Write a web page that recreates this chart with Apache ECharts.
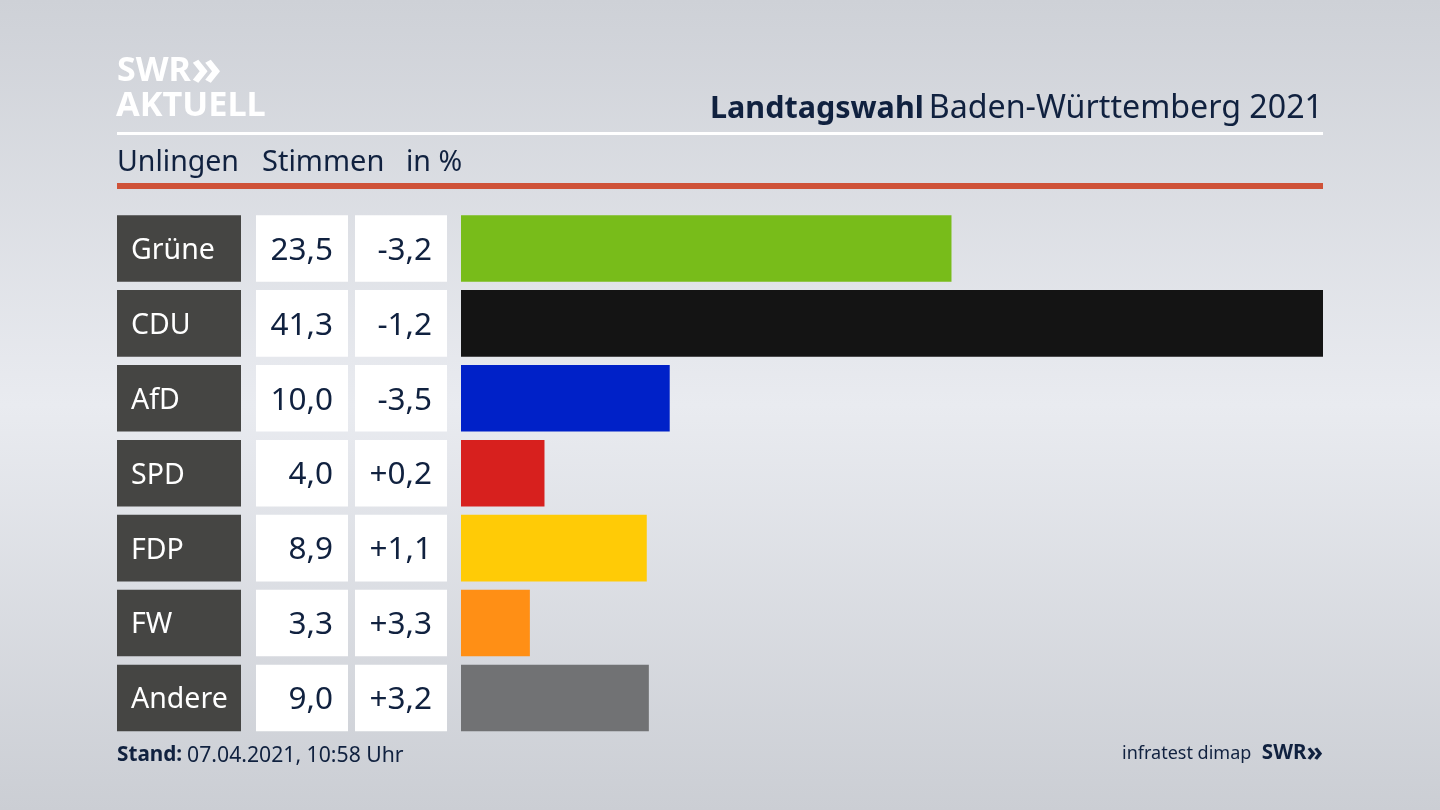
<!DOCTYPE html>
<html><head><meta charset="utf-8">
<style>html,body{margin:0;padding:0;background:#dfe1e6}#c{width:1440px;height:810px}</style>
<script src="https://cdn.jsdelivr.net/npm/echarts@6/dist/echarts.min.js"></script>
</head><body><div id="c"></div>
<script>
const parties = ['Grüne','CDU','AfD','SPD','FDP','FW','Andere'];
const shares = [23.5,41.3,10.0,4.0,8.9,3.3,9.0];
const changes = ['-3,2','-1,2','-3,5','+0,2','+1,1','+3,3','+3,2'];
const barColors = ['#78bc1a','#141414','#0021c8','#d7201e','#ffcb06','#ff8f15','#717274'];
const navy = '#10213f';
const fam = '"Noto Sans"';
const fmt = v => v.toFixed(1).replace('.', ',');
const chart = echarts.init(document.getElementById('c'), null, {renderer:'canvas', width:1440, height:810});
const T = (text, pos, size, extra) => ({text, ...pos, padding:0, textStyle:{color:navy, fontFamily:fam, fontSize:size, fontWeight:'normal', ...extra}});
const cell = (size,color,bg,w,pad,align) => ({width:w,height:62,lineHeight:62,padding:pad,backgroundColor:bg,color,fontFamily:fam,fontSize:size,align});
chart.setOption({
  animation:false,
  backgroundColor:{type:'linear',x:0,y:0,x2:0,y2:1,colorStops:[
    {offset:0,color:'#ced1d7'},{offset:0.5,color:'#e9ebf0'},{offset:1,color:'#cbced4'}]},
  grid:{left:461,top:211,width:862,height:524.4,containLabel:false},
  xAxis:{type:'value',min:0,max:41.3,show:false},
  yAxis:{type:'category',inverse:true,data:parties,
    axisLine:{show:false},axisTick:{show:false},splitLine:{show:false},
    axisLabel:{margin:14,interval:0,align:'right',
      formatter:(name,i)=>`{n|${name}}{g1|}{v|${fmt(shares[i])}}{g2|}{c|${changes[i]}}`,
      rich:{
        n:cell(28.5,'#ffffff','#454543',110,[4.6,0,0,14],'left'),
        g1:{width:15,height:66},
        v:cell(31.5,navy,'#ffffff',77,[4.6,15,0,0],'right'),
        g2:{width:7,height:66},
        c:cell(31.5,navy,'#ffffff',77,[4.6,15,0,0],'right')
      }}},
  series:[{type:'bar',barWidth:66.6,data:shares.map((v,i)=>({value:v,itemStyle:{color:barColors[i]}}))}],
  title:[
    {text:'{a|SWR}{b|»}',left:117,top:51,padding:0,textStyle:{rich:{
      a:{color:'#fff',fontFamily:fam,fontSize:34,fontWeight:'bold'},
      b:{color:'#fff',fontFamily:fam,fontSize:50,fontWeight:'bold',lineHeight:40}}}},
    T('AKTUELL',{left:116,top:89},34.3,{color:'#fff',fontWeight:'bold'}),
    {text:'{b|Landtagswahl} {r|Baden-Württemberg 2021}',right:117,top:93,padding:0,textStyle:{rich:{
      b:{color:navy,fontFamily:fam,fontSize:30.5,fontWeight:'bold'},
      r:{color:navy,fontFamily:fam,fontSize:32.2,fontWeight:'normal'}}}},
    T('Unlingen',{left:117,top:148},28.5),
    T('Stimmen',{left:262,top:148},29),
    T('in %',{left:406,top:148},28.5),
    {text:'{b|Stand:} {r|07.04.2021, 10:58 Uhr}',left:117,top:745,padding:0,textStyle:{rich:{
      b:{color:navy,fontFamily:fam,fontSize:20.7,fontWeight:'bold'},
      r:{color:navy,fontFamily:fam,fontSize:21.2,fontWeight:'normal'}}}},
    T('infratest dimap',{left:1122,top:745},18),
    {text:'{a|SWR}{b|»}',right:117,top:741,padding:0,textStyle:{rich:{
      a:{color:navy,fontFamily:fam,fontSize:20.5,fontWeight:'bold'},
      b:{color:navy,fontFamily:fam,fontSize:27,fontWeight:'bold',lineHeight:24}}}}
  ],
  graphic:[
    {type:'rect',shape:{x:117,y:132,width:1206,height:3},style:{fill:'#ffffff'},silent:true},
    {type:'rect',shape:{x:117,y:183,width:1206,height:6},style:{fill:'#cf5238'},silent:true}
  ]
});
</script></body></html>
